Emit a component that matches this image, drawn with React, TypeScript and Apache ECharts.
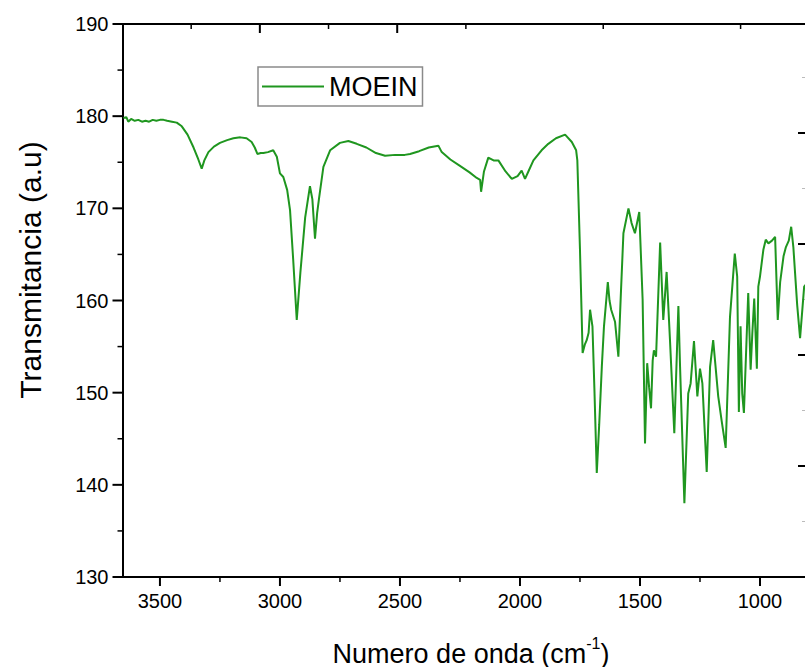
import React, { useEffect, useRef } from "react";
import * as echarts from "echarts";

const seriesName = "MOEIN";

const wavenumbers = [
  3652, 3640, 3632, 3620, 3605, 3590, 3575, 3560, 3545, 3530, 3515, 3500, 3485, 3470, 3450, 3430,
  3409, 3385, 3360, 3340, 3326, 3315, 3298, 3275, 3250, 3220, 3194, 3165, 3139, 3118, 3105, 3094,
  3080, 3069, 3050, 3028, 3013, 3000, 2986, 2970, 2958, 2945, 2930, 2915, 2895, 2875, 2865, 2854,
  2845, 2837, 2819, 2791, 2750, 2715, 2680, 2640, 2600, 2562, 2520, 2480, 2458, 2420, 2380, 2340,
  2326, 2290, 2250, 2210, 2180, 2166, 2162, 2150, 2132, 2110, 2090, 2060, 2034, 2010, 1993, 1979,
  1965, 1944, 1910, 1882, 1850, 1812, 1784, 1766, 1761, 1750, 1739, 1730, 1722, 1714, 1708, 1698,
  1690, 1680, 1670, 1659, 1650, 1634, 1627, 1620, 1604, 1590, 1580, 1569, 1548, 1535, 1521, 1503,
  1489, 1479, 1470, 1462, 1454, 1447, 1442, 1433, 1416, 1403, 1389, 1375, 1357, 1340, 1333, 1315,
  1299, 1289, 1275, 1261, 1250, 1240, 1222, 1208, 1195, 1174, 1160, 1143, 1125, 1105, 1095, 1088,
  1081, 1074, 1067, 1049, 1039, 1032, 1024, 1013, 1007, 1000, 986, 976, 965, 950, 937, 926,
  916, 902, 892, 880, 870, 861, 845, 833, 816, 800, 780, 760,
];

const transmittance = [
  179.8, 179.9, 179.4, 179.7, 179.5, 179.6, 179.4, 179.5, 179.4, 179.6, 179.5, 179.6, 179.6, 179.5, 179.4, 179.3,
  178.9, 178.0, 176.6, 175.3, 174.3, 175.2, 176.1, 176.7, 177.1, 177.4, 177.6, 177.7, 177.6, 177.2, 176.6, 175.9,
  176.0, 176.0, 176.1, 176.3, 175.6, 173.8, 173.4, 172.0, 169.8, 164.5, 157.9, 163.0, 169.0, 172.4, 171.0, 166.7,
  169.5, 171.1, 174.5, 176.3, 177.1, 177.3, 177.0, 176.6, 176.0, 175.7, 175.8, 175.8, 175.9, 176.2, 176.6, 176.8,
  176.1, 175.3, 174.6, 173.9, 173.3, 173.1, 171.8, 174.0, 175.5, 175.2, 175.2, 174.0, 173.2, 173.5, 174.1, 173.2,
  174.0, 175.2, 176.3, 177.0, 177.6, 178.0, 177.2, 176.3, 175.2, 165.5, 154.3, 155.2, 155.7, 156.5, 159.0, 157.2,
  150.5, 141.3, 146.5, 152.8, 157.2, 162.0, 160.0, 159.0, 157.7, 153.9, 160.5, 167.3, 170.0, 168.4, 167.3, 169.6,
  160.1, 144.5, 153.2, 150.6, 148.3, 153.5, 154.6, 153.9, 166.3, 157.9, 163.1, 155.7, 145.6, 159.4, 152.8, 138.0,
  149.9, 151.0, 155.6, 149.6, 152.6, 151.0, 141.4, 152.8, 155.7, 149.6, 147.0, 144.0, 158.2, 165.1, 162.6, 147.9,
  157.2, 149.9, 147.8, 160.8, 152.5, 156.4, 160.2, 152.6, 161.5, 162.6, 165.5, 166.6, 166.2, 166.5, 166.9, 157.9,
  162.0, 164.8, 165.8, 166.5, 168.0, 165.8, 159.5, 155.9, 161.5, 162.0, 161.0, 160.0,
];

const xLabelValues = [1000, 1500, 2000, 2500, 3000, 3500];
const xMinorValues = [750, 1250, 1750, 2250, 2750, 3250];
const yMajorValues = [130, 140, 150, 160, 170, 180, 190];
const yMinorValues = [135, 145, 155, 165, 175, 185];
const topMajorValues = [2, 4];
const topMinorValues = [1, 3, 5, 7, 9];

const FONT = "'Liberation Sans', Arial, sans-serif";
const GREEN = "#1f961f";

function line(show: boolean) {
  return { show, onZero: false, lineStyle: { color: "#000", width: 2 } };
}

export default function App() {
  const ref = useRef<HTMLDivElement>(null);

  useEffect(() => {
    if (!ref.current) return;
    const chart = echarts.init(ref.current, undefined, { renderer: "svg" });
    const data = wavenumbers.map((w, i) => [w, transmittance[i]]);

    const titles = [
      {
        type: "text",
        x: 30,
        y: 270,
        rotation: Math.PI / 2,
        style: {
          text: "Transmitancia (a.u)",
          font: `30px ${FONT}`,
          fill: "#000",
          textAlign: "center",
          textVerticalAlign: "middle",
        },
      },
      {
        type: "text",
        x: 471,
        y: 651,
        style: {
          text: "{a|Numero de onda (cm}{s|-1}{a|)}",
          fill: "#000",
          textAlign: "center",
          textVerticalAlign: "middle",
          rich: {
            a: { fontSize: 27, fontFamily: FONT, fill: "#000", lineHeight: 32, verticalAlign: "bottom" },
            s: { fontSize: 16, fontFamily: FONT, fill: "#000", lineHeight: 32, verticalAlign: "top", padding: [0, 0, 10, 0] },
          },
        },
      },
    ];

    chart.setOption({
      animation: false,
      backgroundColor: "#fff",
      textStyle: { fontFamily: FONT },
      grid: { left: 122.5, top: 24, right: 0, bottom: 90, containLabel: false },
      legend: {
        data: [{ name: seriesName, icon: "rect" }],
        left: 258,
        top: 67,
        orient: "horizontal",
        padding: [5, 5, 5, 4],
        borderColor: "#8a8a8a",
        borderWidth: 1.5,
        itemWidth: 62,
        itemHeight: 2,
        itemGap: 0,
        itemStyle: { color: GREEN },
        textStyle: { fontSize: 27, color: "#000", fontFamily: FONT, lineHeight: 29 },
      },
      xAxis: [
        {
          type: "value",
          position: "bottom",
          inverse: true,
          min: 500,
          max: 3656,
          axisLine: line(true),
          axisTick: { show: false },
          axisLabel: {
            show: true,
            customValues: xLabelValues,
            formatter: (v: number) => String(v),
            fontSize: 20,
            color: "#000",
            margin: 14,
            fontFamily: FONT,
          },
          splitLine: { show: false },
        },
        {
          type: "value",
          position: "top",
          min: 0,
          max: 11.03,
          axisLine: line(true),
          axisTick: { show: false },
          axisLabel: { show: false },
          splitLine: { show: false },
        },
      ],
      yAxis: [
        {
          type: "value",
          position: "left",
          min: 130,
          max: 190,
          interval: 10,
          axisLine: line(true),
          axisTick: { show: false },
          minorTick: { show: false },
          axisLabel: { fontSize: 20, color: "#000", margin: 14, fontFamily: FONT },
          splitLine: { show: false },
          minorSplitLine: { show: false },
        },
        {
          type: "value",
          position: "right",
          offset: -75,
          min: 0,
          max: 4.982,
          interval: 1,
          axisLine: line(false),
          axisTick: { show: true, inside: true, length: 7, lineStyle: { color: "#000", width: 2 } },
          minorTick: { show: true, splitNumber: 2, length: 3, lineStyle: { color: "#bbb", width: 1 } },
          axisLabel: { show: false },
          splitLine: { show: false },
        },
      ],
      series: [
        {
          name: seriesName,
          type: "line",
          xAxisIndex: 0,
          yAxisIndex: 0,
          data,
          symbol: "none",
          showSymbol: false,
          smooth: false,
          lineStyle: { color: GREEN, width: 2 },
          itemStyle: { color: GREEN },
          clip: true,
        },
      ],
      graphic: titles,
    });

    // Tick marks positioned through the chart's own axis scales, drawn as small filled rects.
    const px = (axis: object, v: number) => Number(chart.convertToPixel(axis as any, v));
    const xLeft = px({ xAxisIndex: 0 }, 3656);
    const yBottom = px({ yAxisIndex: 0 }, 130);
    const yTop = px({ yAxisIndex: 0 }, 190);
    const hTick = (xEnd: number, y: number, len: number, w: number) => ({
      type: "rect",
      silent: true,
      z: 100,
      shape: { x: xEnd - len, y: y - w / 2, width: len, height: w },
      style: { fill: "#000" },
    });
    const vTick = (x: number, y0: number, len: number, w: number) => ({
      type: "rect",
      silent: true,
      z: 100,
      shape: { x: x - w / 2, y: len >= 0 ? y0 : y0 + len, width: w, height: Math.abs(len) },
      style: { fill: "#000" },
    });
    const ticks: any[] = [];
    yMajorValues.forEach((v) => ticks.push(hTick(xLeft, px({ yAxisIndex: 0 }, v), 10, 2)));
    yMinorValues.forEach((v) => ticks.push(hTick(xLeft, px({ yAxisIndex: 0 }, v), 5, 1.5)));
    xLabelValues.forEach((v) => ticks.push(vTick(px({ xAxisIndex: 0 }, v), yBottom, 9, 2)));
    xMinorValues.forEach((v) => ticks.push(vTick(px({ xAxisIndex: 0 }, v), yBottom, 5, 1.5)));
    topMajorValues.forEach((v) => ticks.push(vTick(px({ xAxisIndex: 1 }, v), yTop, 9, 2)));
    topMinorValues.forEach((v) => ticks.push(vTick(px({ xAxisIndex: 1 }, v), yTop, 5, 1.5)));

    chart.setOption({ graphic: [...titles, ...ticks] });

    return () => chart.dispose();
  }, []);

  return (
    <div style={{ position: "absolute", left: 0, top: 0, width: 805, height: 667, overflow: "hidden", background: "#fff" }}>
      <div ref={ref} style={{ width: 880, height: 667 }} />
    </div>
  );
}
